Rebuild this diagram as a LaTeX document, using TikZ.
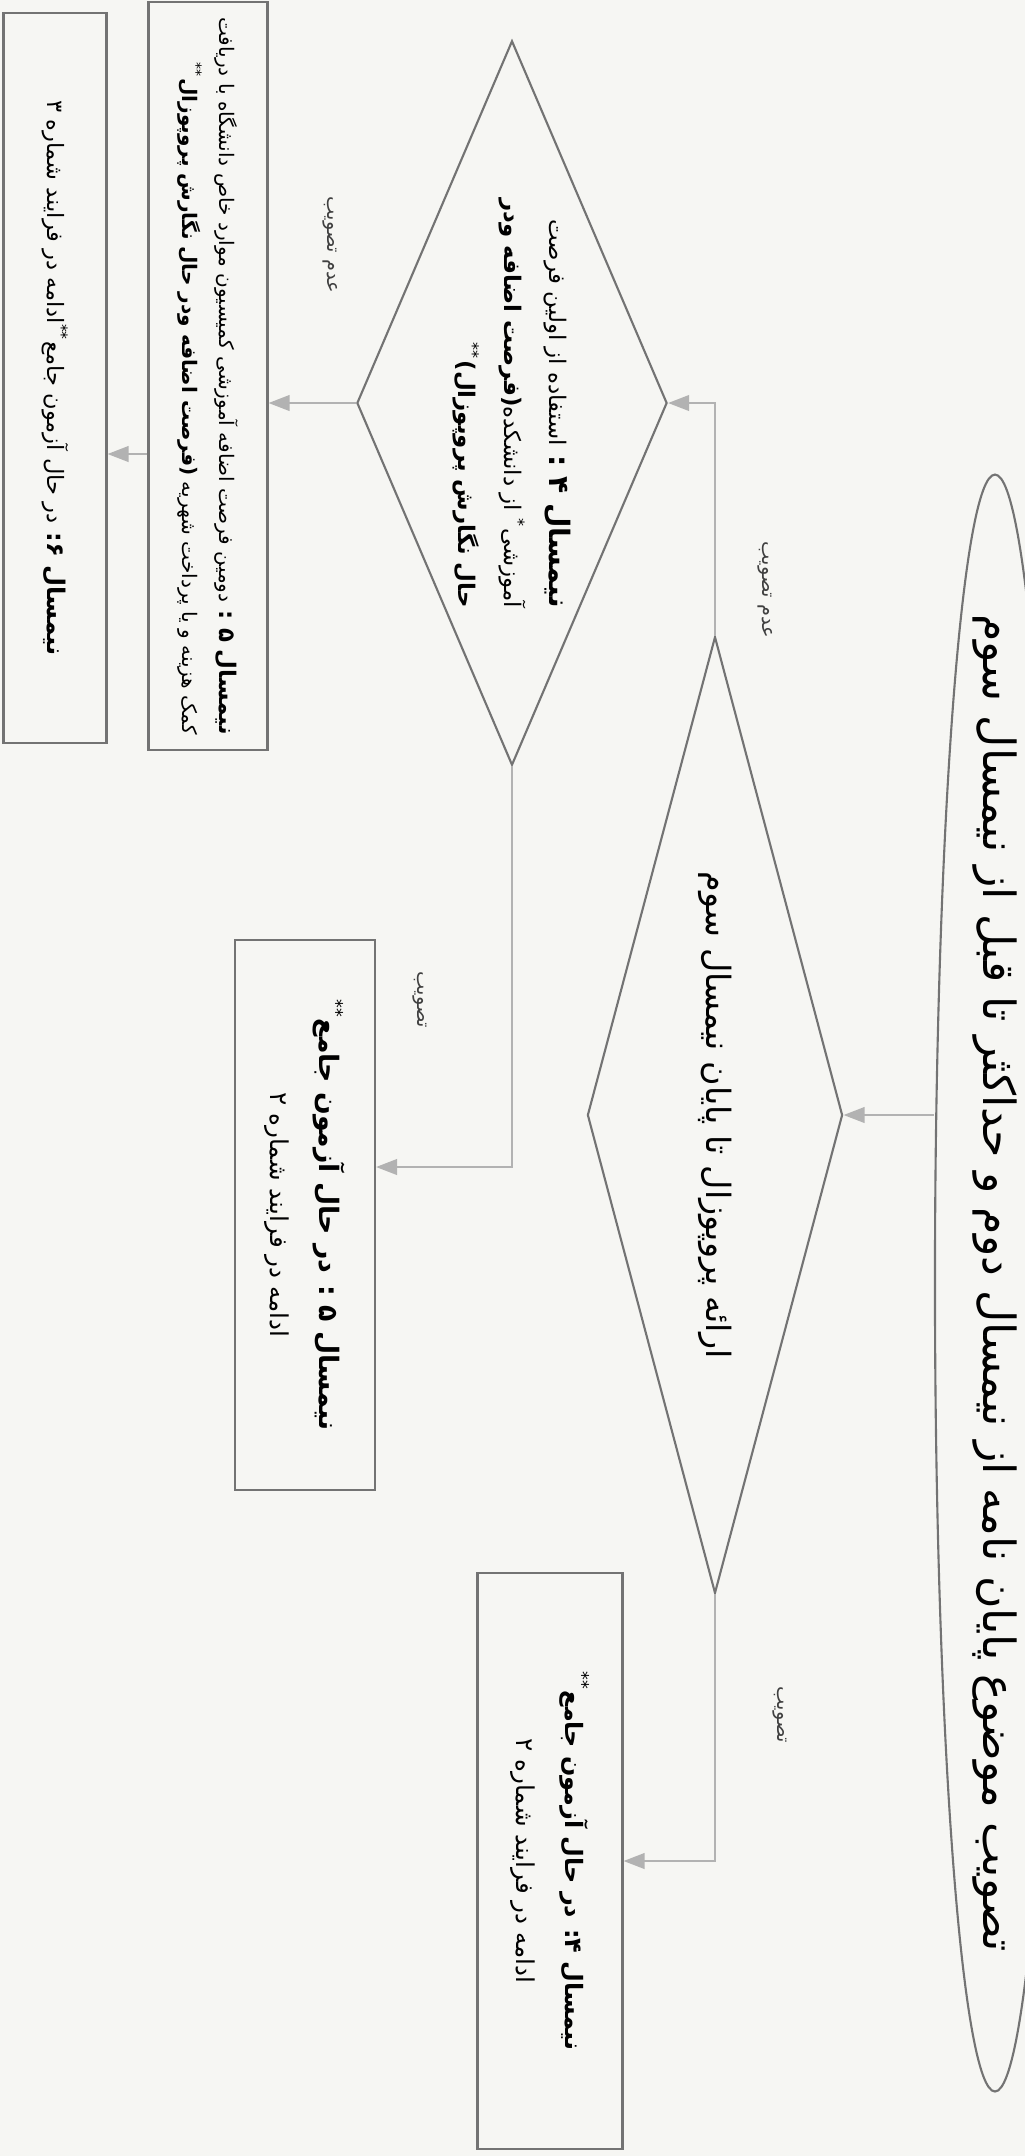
\documentclass[tikz,border=0pt]{standalone}
\usepackage{fontspec}
\newfontfamily\farsi[Script=Arabic]{DejaVu Sans}
\TeXXeTstate=1
\usetikzlibrary{shapes.geometric,arrows.meta,calc}

\definecolor{paper}{RGB}{246,246,243}
\definecolor{shapeline}{RGB}{115,115,115}
\definecolor{linkline}{RGB}{178,178,178}

\tikzset{
  outline/.style={draw=shapeline, line width=0.6pt},
  startbox/.style={ellipse, outline, rotate=-90, inner sep=0pt},
  decision/.style={diamond, outline, rotate=-90, inner sep=0pt},
  stepbox/.style={rectangle, outline, rotate=-90, inner sep=0pt},
  link/.style={draw=linkline, line width=0.5pt, -{Triangle[length=6pt,width=4.5pt]}},
  linklabel/.style={rotate=-90, text=black!75, font=\farsi\fontsize{5.5}{7}\selectfont}
}

\begin{document}
\begin{tikzpicture}[x=0.01cm, y=-0.01cm]
  % Paper
  \fill[paper] (0,0) rectangle (1025,2156);
  \useasboundingbox (0,0) rectangle (1025,2156);

  % Start of the process
  \node[startbox, minimum width=16.16cm, minimum height=1.2cm,
        font=\farsi\fontsize{12.6}{15}\selectfont] (topic) at (995,1283)
    {\makebox[0pt]{\beginR تصویب موضوع پایان نامه از نیمسال دوم و حداکثر تا قبل از نیمسال سوم\endR}};

  % Decisions
  \node[decision, minimum width=9.56cm, minimum height=2.55cm, aspect=3.75,
        font=\farsi\fontsize{9.5}{11}\selectfont] (proposal) at (715,1115)
    {\beginR ارائه پروپوزال تا پایان نیمسال سوم\endR};
  \node[decision, minimum width=7.24cm, minimum height=3.1cm, aspect=2.34, align=right,
        font=\farsi\fontsize{6.5}{13}\selectfont] (firstchance) at (512,403)
    {\beginR\textbf{\fontsize{8}{13}\selectfont نیمسال ۴ :} استفاده از اولین فرصت\endR\\
     \beginR آموزشی\textsuperscript{*} از دانشکده\textbf{(فرصت اضافه ودر}\endR\\
     \beginR\textbf{حال نگارش پروپوزال)}\textsuperscript{**}\endR};

  % Outcomes
  \node[stepbox, minimum width=5.76cm, minimum height=1.45cm, align=center,
        font=\farsi\fontsize{7}{14}\selectfont] (exam4) at (550,1861)
    {\beginR\textbf{\fontsize{6.8}{14}\selectfont نیمسال ۴: در حال آزمون جامع}\textsuperscript{**}\endR\\
     \beginR ادامه در فرایند شماره ۲\endR};
  \node[stepbox, minimum width=5.5cm, minimum height=1.4cm, align=center,
        font=\farsi\fontsize{7}{14}\selectfont] (exam5) at (305,1215)
    {\beginR\textbf{\fontsize{7.6}{14}\selectfont نیمسال ۵ : در حال آزمون جامع}\textsuperscript{**}\endR\\
     \beginR ادامه در فرایند شماره ۲\endR};
  \node[stepbox, minimum width=7.48cm, minimum height=1.19cm, align=right,
        font=\farsi\fontsize{5.7}{10.5}\selectfont] (secondchance) at (208,376)
    {\beginR\textbf{\fontsize{6.5}{10.5}\selectfont نیمسال ۵ :} دومین فرصت اضافه آموزشی کمیسیون موارد خاص دانشگاه با دریافت\endR\\
     \beginR کمک هزینه و یا پرداخت شهریه \textbf{(فرصت اضافه ودر حال نگارش پروپوزال}\textsuperscript{**}\endR};
  \node[stepbox, minimum width=7.29cm, minimum height=1.03cm,
        font=\farsi\fontsize{6.4}{9}\selectfont] (exam6) at (55,378)
    {\beginR\textbf{\fontsize{6.9}{9}\selectfont نیمسال ۶:} در حال آزمون جامع\textsuperscript{**}ادامه در فرایند شماره ۳\endR};

  % Connectors
  \draw[link] (proposal.north -| topic.south) -- (proposal.north);
  \draw[link] (proposal.west) |- (firstchance.north);
  \draw[link] (proposal.east) |- (exam4.north);
  \draw[link] (firstchance.south) -- (firstchance.south -| secondchance.north);
  \draw[link] (firstchance.east) |- ($(exam5.north)+(0,-48)$);
  \coordinate (fromsecond) at ($(secondchance.south)+(0,78)$);
  \draw[link] (fromsecond) -- (fromsecond -| exam6.north);

  % Labels
  \node[linklabel] (reject1) at (765,590) {\beginR عدم تصویب\endR};
  \node[linklabel] (accept1) at (780,1715) {\beginR تصویب\endR};
  \node[linklabel] (reject2) at (330,245) {\beginR عدم تصویب\endR};
  \node[linklabel] (accept2) at (420,1000) {\beginR تصویب\endR};
\end{tikzpicture}
\end{document}
